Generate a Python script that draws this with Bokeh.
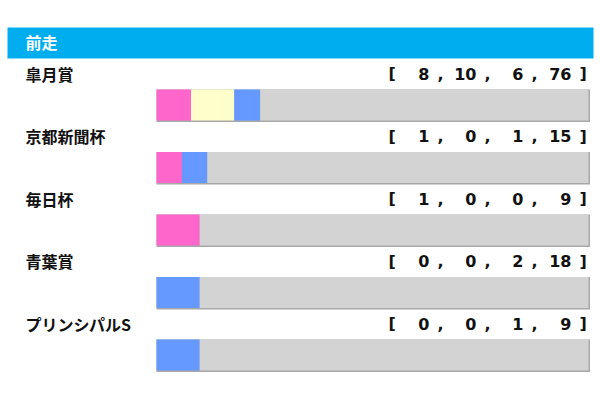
import numpy as np
from bokeh.plotting import figure
from bokeh.models import Range1d, ColumnDataSource
from bokeh.core.properties import value
from bokeh.embed import file_html
from bokeh.resources import INLINE

# ---- data ----
header = "前走"
races = ["皐月賞", "京都新聞杯", "毎日杯", "青葉賞", "プリンシパルS"]
first = [8, 1, 1, 0, 0]
second = [10, 0, 0, 0, 0]
third = [6, 1, 0, 2, 1]
other = [76, 15, 9, 18, 9]
series_colors = ["#FF66CC", "#FFFFCC", "#6699FF", "#D3D3D3"]

# ---- layout helpers (screen px -> data) ----
W, H = 594, 392
OX, OY = 0, 0                  # observed screen offset of the figure
BAR_X0, BAR_W = 156, 432       # screen px where fraction 0 starts, width of fraction 1
ROW0, ROW_H = 104.5, 62.5      # screen y of first bar centre, row pitch


def sx(px):
    return (px - BAR_X0) / BAR_W


def sy(py):
    return (py - ROW0) / ROW_H


p = figure(width=W, height=H, output_backend="svg", toolbar_location=None,
           x_range=Range1d(sx(OX), sx(OX + W)), y_range=Range1d(sy(OY + H), sy(OY)),
           min_border=0, outline_line_color=None, background_fill_color="white",
           border_fill_color="white")
p.axis.visible = False
p.grid.visible = False

n = len(races)
idx = np.arange(n)
vals = np.array([first, second, third, other], dtype=float)
totals = vals.sum(axis=0)
fr = vals / totals
cum = np.vstack([np.zeros(n), np.cumsum(fr, axis=0)])

bar_h = 31 / ROW_H

# header band
p.quad(left=[sx(7)], right=[sx(593)], top=[sy(27)], bottom=[sy(58)],
       fill_color="#00AEEF", line_color=None)
p.text(x=[sx(25)], y=[sy(41.5)], text=[header], text_color="white",
       text_font=value("Noto Sans CJK JP"), text_font_style="bold",
       text_font_size="16px", text_baseline="middle", text_align="left")

# bar shadows
p.quad(left=np.zeros(n), right=np.ones(n) + 1.5 / BAR_W,
       top=idx - bar_h / 2, bottom=idx + bar_h / 2 + 1.5 / ROW_H,
       fill_color="#A8A8A8", line_color=None)

# stacked segments
for k in range(4):
    src = ColumnDataSource(dict(y=idx, left=cum[k], right=cum[k + 1]))
    p.hbar(y="y", left="left", right="right", height=bar_h, source=src,
           fill_color=series_colors[k], line_color=None)

# race labels
ty = idx - 0.5
p.text(x=[sx(25)] * n, y=ty, text=races, text_color="#111111",
       text_font=value("Noto Sans CJK JP"), text_font_style="bold",
       text_font_size="16px", text_baseline="middle", text_align="left")

# bracket counts
num_font = value("DejaVu Sans")
p.text(x=[sx(388)] * n, y=ty, text=["["] * n, text_color="#111111",
       text_font=num_font, text_font_style="bold", text_font_size="16px",
       text_baseline="middle", text_align="left")
p.text(x=[sx(579)] * n, y=ty, text=["]"] * n, text_color="#111111",
       text_font=num_font, text_font_style="bold", text_font_size="16px",
       text_baseline="middle", text_align="left")
num_right = [429, 476, 523, 571]
for k, col in enumerate([first, second, third, other]):
    p.text(x=[sx(num_right[k])] * n, y=ty, text=[str(v) for v in col],
           text_color="#111111", text_font=num_font, text_font_style="bold",
           text_font_size="16px", text_baseline="middle", text_align="right")
    if k < 3:
        p.text(x=[sx(num_right[k] + 8)] * n, y=ty, text=[","] * n,
               text_color="#111111", text_font=num_font, text_font_style="bold",
               text_font_size="16px", text_baseline="middle", text_align="left")

open("out.html", "w").write(file_html(p, INLINE))
